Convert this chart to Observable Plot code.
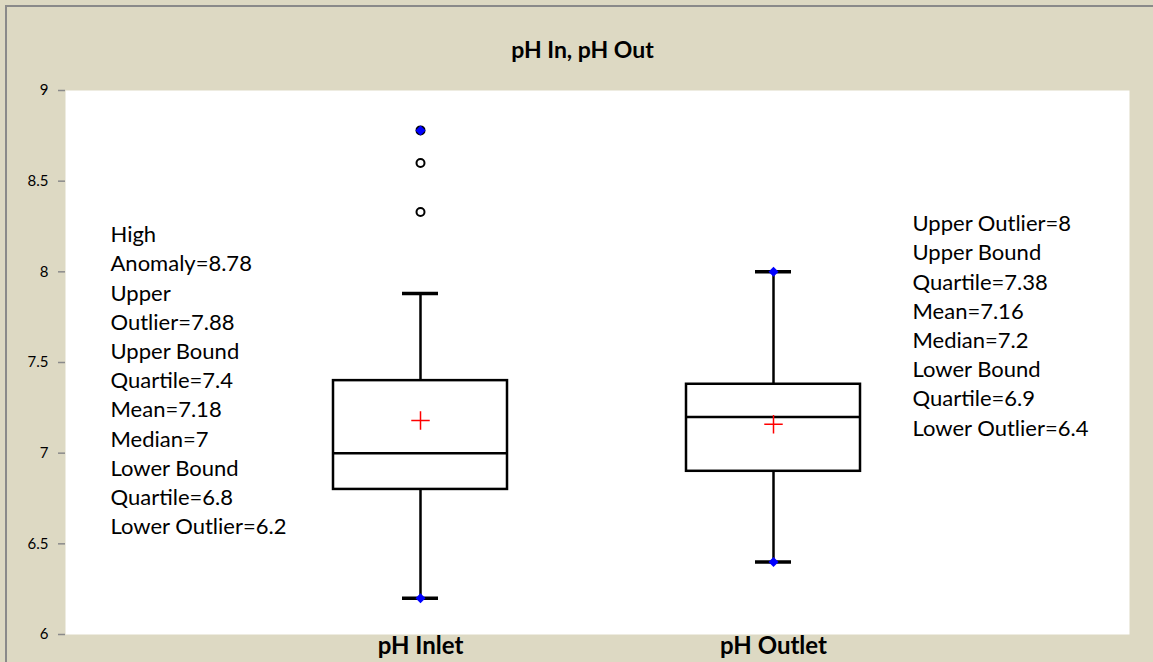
<!DOCTYPE html>
<html>
<head>
<meta charset="utf-8">
<script src="https://cdn.jsdelivr.net/npm/d3@7"></script>
<script src="https://cdn.jsdelivr.net/npm/@observablehq/plot@0.6"></script>
<style>
  html, body { margin: 0; padding: 0; background: #ddd9c3; }
  #wrap { position: relative; width: 1153px; height: 662px; overflow: hidden; background: #ddd9c3; }
  #border { position: absolute; left: 5px; top: 5px; width: 1160px; height: 670px;
            border-left: 2px solid #8a8a8a; border-top: 2px solid #8a8a8a; }
  #chart { position: absolute; left: 0; top: 0; }
</style>
</head>
<body>
<div id="wrap"><div id="border"></div><div id="chart"></div></div>
<script>
const title = "pH In, pH Out";
const categories = ["pH Inlet", "pH Outlet"];
const lowerWhisker = [6.2, 6.4];
const q1 = [6.8, 6.9];
const median = [7, 7.2];
const q3 = [7.4, 7.38];
const upperWhisker = [7.88, 8];
const mean = [7.18, 7.16];
const minValue = [6.2, 6.4];
const maxValue = [8.78, 8];
const outlierCategory = ["pH Inlet", "pH Inlet", "pH Inlet"];
const outlierValue = [8.33, 8.6, 8.78];
const yTicks = [6, 6.5, 7, 7.5, 8, 8.5, 9];
const inletNotes = ["High", "Anomaly=8.78", "Upper", "Outlier=7.88", "Upper Bound", "Quartile=7.4",
  "Mean=7.18", "Median=7", "Lower Bound", "Quartile=6.8", "Lower Outlier=6.2"];
const outletNotes = ["Upper Outlier=8", "Upper Bound", "Quartile=7.38", "Mean=7.16", "Median=7.2",
  "Lower Bound", "Quartile=6.9", "Lower Outlier=6.4"];

const boxes = categories.map((c, i) => ({
  cat: c, lo: lowerWhisker[i], q1: q1[i], med: median[i], q3: q3[i], hi: upperWhisker[i], mean: mean[i]
}));
const extremes = categories.flatMap((c, i) => [{cat: c, v: minValue[i]}, {cat: c, v: maxValue[i]}]);
const outliers = outlierValue.map((v, i) => ({cat: outlierCategory[i], v}));

const font = "Lato, 'Open Sans', sans-serif";

const chart = Plot.plot({
  width: 1153,
  height: 662,
  marginLeft: 65,
  marginRight: 24,
  marginTop: 90,
  marginBottom: 28,
  style: {background: "transparent", fontFamily: font, fontSize: "15px", color: "#000"},
  x: {type: "band", domain: categories, paddingInner: 0.506, paddingOuter: 0.756, label: null},
  y: {domain: [6, 9], label: null},
  marks: [
    Plot.frame({fill: "white", stroke: null}),
    Plot.axisY({ticks: yTicks, tickFormat: d => String(d), tickSize: 7, tickPadding: 10,
      fontSize: 15, stroke: "#8a8a8a", fill: "#000", strokeWidth: 1.5}),
    Plot.ruleX([0], {frameAnchor: "left", y1: 6, y2: 9, stroke: "#8a8a8a", strokeWidth: 2}),
    Plot.axisX({tickSize: 0, tickPadding: 2, fontSize: 24, fontWeight: "bold", fill: "#000"}),
    // whiskers
    Plot.ruleX(boxes, {x: "cat", y1: "lo", y2: "q1", stroke: "#000", strokeWidth: 2.5}),
    Plot.ruleX(boxes, {x: "cat", y1: "q3", y2: "hi", stroke: "#000", strokeWidth: 2.5}),
    Plot.tickY(boxes, {x: "cat", y: "lo", inset: 69, stroke: "#000", strokeWidth: 3.5}),
    Plot.tickY(boxes, {x: "cat", y: "hi", inset: 69, stroke: "#000", strokeWidth: 3.5}),
    // box
    Plot.barY(boxes, {x: "cat", y1: "q1", y2: "q3", fill: "white", stroke: "#000", strokeWidth: 2.5}),
    Plot.tickY(boxes, {x: "cat", y: "med", stroke: "#000", strokeWidth: 2.5}),
    // mean
    Plot.dot(boxes, {x: "cat", y: "mean", symbol: "plus", r: 6, stroke: "#ff0000", strokeWidth: 1.5}),
    // outliers
    Plot.dot(outliers, {x: "cat", y: "v", r: 4, fill: "white", stroke: "#000", strokeWidth: 2}),
    // min / max
    Plot.dot(extremes, {x: "cat", y: "v", symbol: "diamond2", r: 4.5, fill: "#0000ff", stroke: null}),
    // notes
    Plot.text([inletNotes.join("\n")], {frameAnchor: "top-left", dx: 45, dy: 131, textAnchor: "start",
      lineAnchor: "top", lineHeight: 1.327, fontSize: 22, fill: "#000"}),
    Plot.text([outletNotes.join("\n")], {frameAnchor: "top-left", dx: 847, dy: 120, textAnchor: "start",
      lineAnchor: "top", lineHeight: 1.327, fontSize: 22, fill: "#000"}),
    // title
    Plot.text([title], {frameAnchor: "top", dx: -15, dy: -49, fontSize: 23, fontWeight: "bold", fill: "#000"})
  ]
});
document.getElementById("chart").appendChild(chart);
</script>
</body>
</html>
